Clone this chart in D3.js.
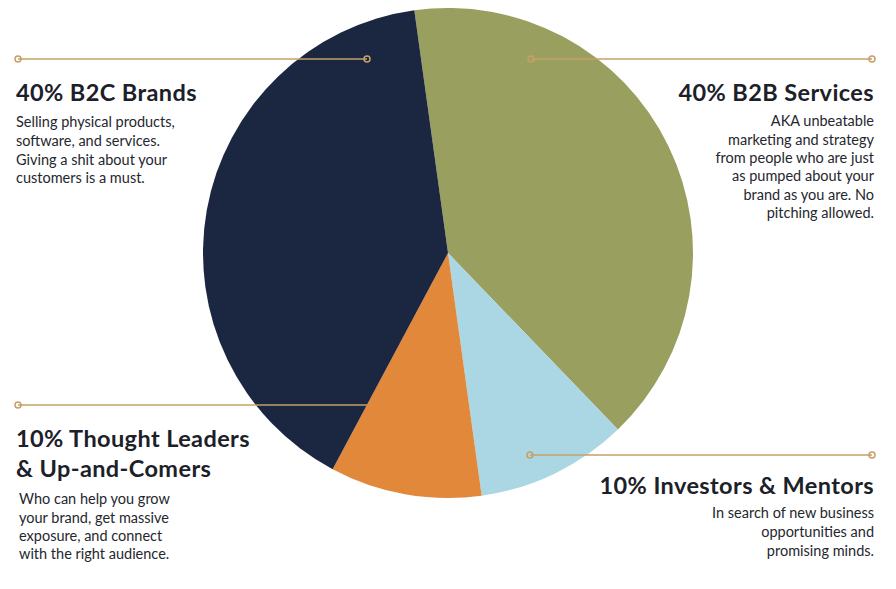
<!DOCTYPE html>
<html><head><meta charset="utf-8">
<script src="https://cdn.jsdelivr.net/npm/d3@7"></script>
<style>html,body{margin:0;padding:0;background:#fff;}svg{display:block;}</style>
</head><body>
<svg id="chart" width="896" height="589"></svg>
<script>
const categories = ["B2B Services", "Investors & Mentors", "Thought Leaders & Up-and-Comers", "B2C Brands"];
const values = [40, 10, 10, 40];
const colors = ["#99a05f", "#abd6e3", "#e2883a", "#1b2641"];

const titles = [
  ["40% B2B Services"],
  ["10% Investors & Mentors"],
  ["10% Thought Leaders", "& Up-and-Comers"],
  ["40% B2C Brands"]
];
const bodies = [
  ["AKA unbeatable", "marketing and strategy", "from people who are just", "as pumped about your", "brand as you are. No", "pitching allowed."],
  ["In search of new business", "opportunities and", "promising minds."],
  ["Who can help you grow", "your brand, get massive", "exposure, and connect", "with the right audience."],
  ["Selling physical products,", "software, and services.", "Giving a shit about your", "customers is a must."]
];

const svg = d3.select("#chart");
const cx = 448, cy = 253, R = 245;
const start = -0.138;

const pie = d3.pie().sort(null).value(d => d).startAngle(start).endAngle(start + 2 * Math.PI);
const arc = d3.arc().innerRadius(0).outerRadius(R);

svg.append("g").attr("transform", `translate(${cx},${cy})`)
  .selectAll("path").data(pie(values)).join("path")
  .attr("d", arc).attr("fill", (d, i) => colors[i]);

// leader lines
const lineColor = "#c6a067";
const leaders = [
  {x1: 531, x2: 872, y: 59, c1: true, c2: true},
  {x1: 530, x2: 872, y: 455, c1: true, c2: true},
  {x1: 18, x2: 367, y: 405, c1: true, c2: false},
  {x1: 18, x2: 367, y: 59, c1: true, c2: true}
];
const lg = svg.append("g");
leaders.forEach(l => {
  lg.append("line").attr("x1", l.x1).attr("x2", l.x2).attr("y1", l.y).attr("y2", l.y)
    .attr("stroke", lineColor).attr("stroke-width", 1.6);
  if (l.c1) lg.append("circle").attr("cx", l.x1).attr("cy", l.y).attr("r", 3).attr("fill", "none").attr("stroke", lineColor).attr("stroke-width", 1.5);
  if (l.c2) lg.append("circle").attr("cx", l.x2).attr("cy", l.y).attr("r", 3).attr("fill", "none").attr("stroke", lineColor).attr("stroke-width", 1.5);
});

// text blocks
const blocks = [
  {x: 874, anchor: "end", ty: [101], by: [126, 144.5, 163, 181, 199.5, 218]},
  {x: 874, anchor: "end", ty: [494], by: [518, 537, 555.5]},
  {x: 16, anchor: "start", ty: [447, 477], by: [504, 522.5, 541, 559], bx: 19},
  {x: 16, anchor: "start", ty: [101], by: [127, 146, 164.5, 183]}
];
const font = "Lato, 'Open Sans', sans-serif";
const tg = svg.append("g");
blocks.forEach((b, i) => {
  titles[i].forEach((t, j) => {
    tg.append("text").attr("x", b.x).attr("y", b.ty[j]).attr("text-anchor", b.anchor)
      .attr("font-family", font).attr("font-weight", 700).attr("font-size", 23.5)
      .attr("letter-spacing", 0.4)
      .attr("fill", "#1c2029").text(t);
  });
  bodies[i].forEach((t, j) => {
    tg.append("text").attr("x", b.bx || b.x).attr("y", b.by[j]).attr("text-anchor", b.anchor)
      .attr("font-family", font).attr("font-weight", 400).attr("font-size", 14.5)
      .attr("fill", "#25272e").text(t);
  });
});
</script>
</body></html>
